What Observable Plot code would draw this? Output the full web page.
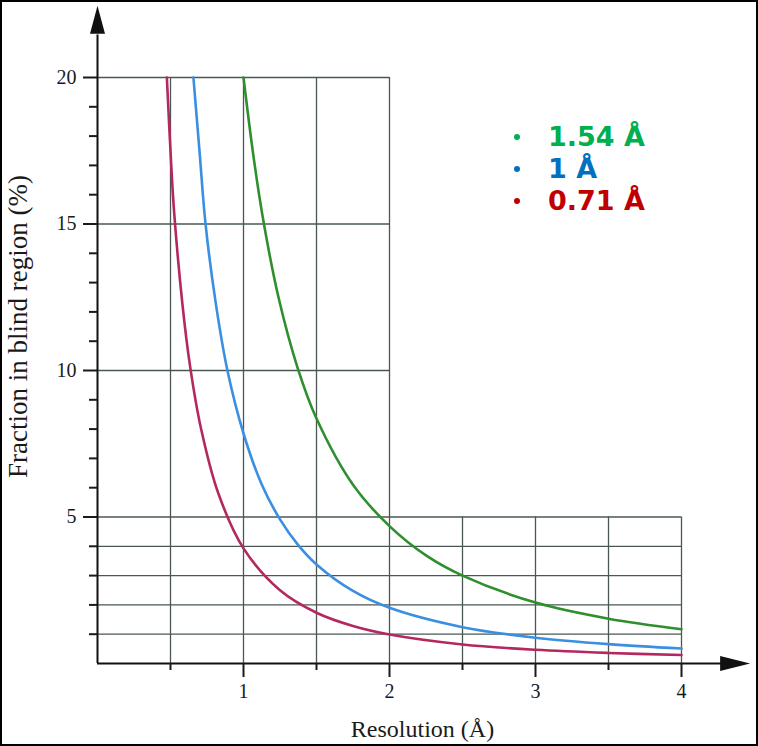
<!DOCTYPE html>
<html><head><meta charset="utf-8">
<script src="https://cdn.jsdelivr.net/npm/d3@7"></script>
<script src="https://cdn.jsdelivr.net/npm/@observablehq/plot@0.6"></script>
<style>
html,body{margin:0;padding:0;background:#fff;}
#wrap{position:relative;width:758px;height:746px;overflow:hidden;background:#fff;}
#frame{position:absolute;left:0;top:0;width:758px;height:746px;box-sizing:border-box;border:2px solid #000;pointer-events:none;}
#legend{position:absolute;left:510px;top:121px;font-family:"DejaVu Sans",Verdana,sans-serif;font-weight:bold;font-size:27px;line-height:32px;}
#legend div{display:flex;align-items:center;white-space:nowrap;}
#legend span.dot{display:inline-block;width:6px;height:6px;border-radius:50%;margin:0 28px 0 4px;}
</style>
</head><body>
<div id="wrap"><div id="chart"></div><div id="legend"></div><div id="frame"></div></div>
<script>
// ---- data ----
const seriesNames = ["1.54 Å", "1 Å", "0.71 Å"];
const lineColors = ["#2f8f2f", "#3b8fe0", "#b3285f"];
const legendColors = ["#00b050", "#0070c0", "#c00000"];

const res154 = [1.0, 1.07, 1.14, 1.24, 1.37, 1.5, 1.75, 2.0, 2.25, 2.5, 3.0, 3.5, 4.0];
const frac154 = [20, 17.25, 15, 12.49, 10.1, 8.36, 6.1, 4.69, 3.69, 3.0, 2.08, 1.53, 1.17];

const res100 = [0.657, 0.70, 0.74, 0.81, 0.89, 1.0, 1.125, 1.25, 1.375, 1.5, 1.75, 2.0, 2.5, 3.0, 3.5, 4.0];
const frac100 = [20, 17.4, 15, 12.3, 10, 7.85, 6.11, 4.92, 4.04, 3.38, 2.475, 1.9, 1.24, 0.88, 0.66, 0.51];

const res071 = [0.475, 0.503, 0.525, 0.582, 0.634, 0.709, 0.828, 1.0, 1.25, 1.5, 1.75, 2.0, 2.5, 3.0, 3.5, 4.0];
const frac071 = [20, 17.2, 15.4, 12.25, 10.15, 8.02, 5.8, 3.93, 2.5, 1.733, 1.28, 0.99, 0.65, 0.467, 0.36, 0.29];

const xMajorTicks = [1, 2, 3, 4];
const xMinorTicks = [0.5, 1.5, 2.5, 3.5];
const yMajorTicks = [5, 10, 15, 20];
const yMinorTicks = [1, 2, 3, 4, 6, 7, 8, 9, 11, 12, 13, 14, 16, 17, 18, 19];

const gridVTall = [0.5, 1, 1.5, 2];
const gridVShort = [2.5, 3, 3.5, 4];
const gridHLong = [1, 2, 3, 4, 5];
const gridHShort = [10, 15, 20];

const xTitle = "Resolution (Å)";
const yTitle = "Fraction in blind region (%)";
const axisExtent = {x: 4.47, y: 22.45};

// ---- build table ----
const rows = [];
[[res154, frac154], [res100, frac100], [res071, frac071]].forEach(([xs, ys], i) => {
  xs.forEach((r, j) => rows.push({series: seriesNames[i], res: r, frac: ys[j]}));
});

const upArrow = {draw(ctx) { ctx.moveTo(0, 0); ctx.lineTo(-7.5, 28); ctx.lineTo(7.5, 28); ctx.closePath(); }};
const rightArrow = {draw(ctx) { ctx.moveTo(0, 0); ctx.lineTo(-30, -7.5); ctx.lineTo(-30, 7.5); ctx.closePath(); }};

const gridColor = "#4a5753";
const serif = "'Liberation Serif','Times New Roman',serif";

const plot = Plot.plot({
  width: 758, height: 746,
  marginLeft: 97, marginRight: 77, marginTop: 77, marginBottom: 83,
  x: {domain: [0, 4]},
  y: {domain: [0, 20]},
  color: {domain: seriesNames, range: lineColors},
  style: {fontFamily: serif, color: "#1a1a1a", background: "#fff", overflow: "visible"},
  marks: [
    Plot.ruleX(gridVTall, {y1: 0, y2: 20, stroke: gridColor, strokeWidth: 1.3}),
    Plot.ruleX(gridVShort, {y1: 0, y2: 5, stroke: gridColor, strokeWidth: 1.3}),
    Plot.ruleY(gridHLong, {x1: 0, x2: 4, stroke: gridColor, strokeWidth: 1.3}),
    Plot.ruleY(gridHShort, {x1: 0, x2: 2, stroke: gridColor, strokeWidth: 1.3}),
    Plot.line(rows, {x: "res", y: "frac", z: "series", stroke: "series", curve: "catmull-rom", strokeWidth: 2.6}),
    Plot.ruleX([0], {y1: 0, y2: axisExtent.y - 1, stroke: "#111", strokeWidth: 2}),
    Plot.ruleY([0], {x1: 0, x2: axisExtent.x - 0.1, stroke: "#111", strokeWidth: 2}),
    Plot.dot([0], {x: 0, y: axisExtent.y, symbol: upArrow, fill: "#111", stroke: null, r: 5}),
    Plot.dot([0], {x: axisExtent.x, y: 0, symbol: rightArrow, fill: "#111", stroke: null, r: 5}),
    Plot.axisY({ticks: yMajorTicks, tickSize: 14, tickPadding: 7, fontSize: 20, strokeWidth: 2, label: null, tickFormat: d => String(d)}),
    Plot.axisY({ticks: yMinorTicks, tickSize: 8, strokeWidth: 2, label: null, tickFormat: () => ""}),
    Plot.axisX({ticks: xMajorTicks, tickSize: 14, tickPadding: 6, fontSize: 20, strokeWidth: 2, label: null, tickFormat: d => String(d)}),
    Plot.axisX({ticks: xMinorTicks, tickSize: 7, strokeWidth: 2, label: null, tickFormat: () => ""}),
    Plot.text([xTitle], {frameAnchor: "bottom", textAnchor: "middle", lineAnchor: "middle", dx: 33, dy: 66, fontSize: 24, fill: "#1a1a1a"}),
    Plot.text([yTitle], {frameAnchor: "left", textAnchor: "middle", lineAnchor: "middle", rotate: -90, dx: -79, dy: -44, fontSize: 27, fill: "#1a1a1a"})
  ]
});
document.getElementById("chart").appendChild(plot);

const legend = document.getElementById("legend");
seriesNames.forEach((name, i) => {
  const row = document.createElement("div");
  row.style.color = legendColors[i];
  const dot = document.createElement("span");
  dot.className = "dot";
  dot.style.background = legendColors[i];
  row.appendChild(dot);
  row.appendChild(document.createTextNode(name));
  legend.appendChild(row);
});
</script>
</body></html>
